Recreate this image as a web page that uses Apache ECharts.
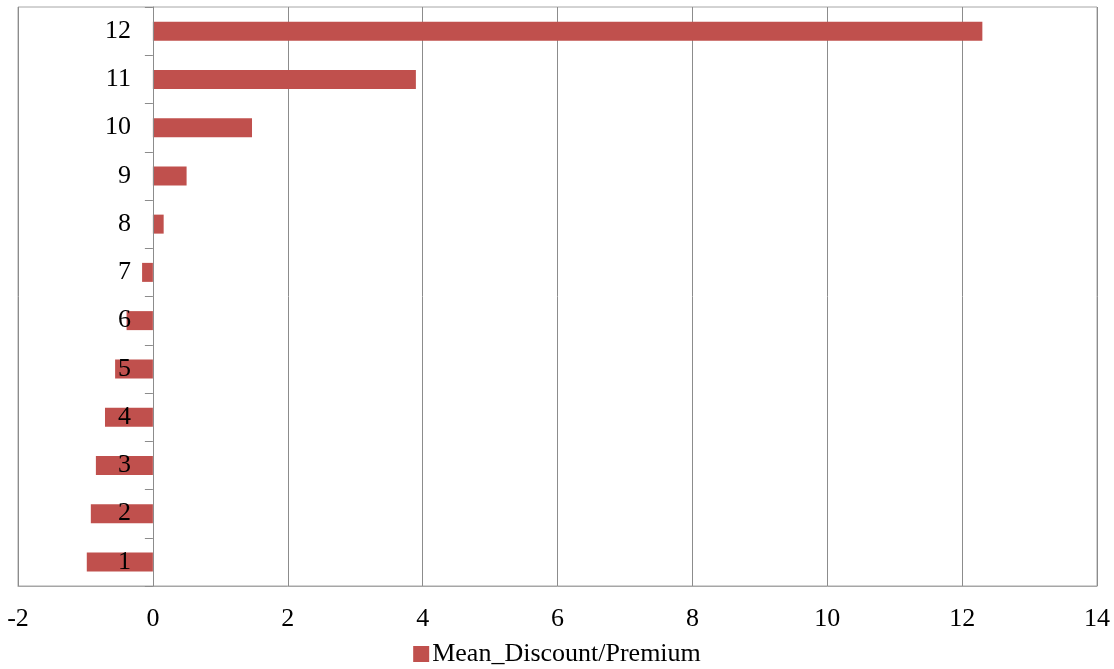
<!DOCTYPE html>
<html>
<head>
<meta charset="utf-8">
<script src="https://cdn.jsdelivr.net/npm/echarts@6/dist/echarts.min.js"></script>
<style>html,body{margin:0;padding:0;background:#fff;}#c{width:1114px;height:669px;}</style>
</head>
<body>
<div id="c"></div>
<script>
var categories = ['1','2','3','4','5','6','7','8','9','10','11','12'];
var meanDiscountPremium = [-0.98, -0.92, -0.845, -0.71, -0.56, -0.39, -0.16, 0.16, 0.50, 1.47, 3.90, 12.30];
var seriesName = 'Mean_Discount/Premium';
var xMin = -2, xMax = 14, xStep = 2;

var font = '"Liberation Serif", "Times New Roman", serif';
var gridLeft = 18, gridRight = 17, W = 1114;
var plotW = W - gridLeft - gridRight;
// place the category axis at value 0 of the x scale
var zeroOffset = -plotW * (0 - xMin) / (xMax - xMin);

var chart = echarts.init(document.getElementById('c'), null, {renderer: 'canvas'});
chart.setOption({
  animation: false,
  backgroundColor: '#fff',
  grid: {left: gridLeft, right: gridRight, top: 7, bottom: 83, show: true, borderColor: '#a6a6a6', borderWidth: 1,
         containLabel: false, outerBoundsMode: 'none'},
  legend: {
    data: [seriesName], bottom: -3, left: 'center', itemWidth: 16, itemHeight: 16, itemGap: 5,
    icon: 'rect',
    textStyle: {fontFamily: font, fontSize: 26, color: '#000', padding: [0,0,0,-2]}
  },
  xAxis: {
    type: 'value', min: xMin, max: xMax, interval: xStep,
    axisLine: {show: true, onZero: false, lineStyle: {color: '#a6a6a6'}},
    axisTick: {show: false},
    splitLine: {show: true, lineStyle: {color: '#8c8c8c', width: 1}},
    axisLabel: {fontFamily: font, fontSize: 26, color: '#000', margin: 20}
  },
  yAxis: {
    type: 'category', data: categories, boundaryGap: true, position: 'left', offset: zeroOffset,
    z: 10,
    axisLine: {show: true, onZero: false, lineStyle: {color: '#8c8c8c'}},
    axisTick: {show: true, length: 8, lineStyle: {color: '#8c8c8c'}},
    axisLabel: {fontFamily: font, fontSize: 26, color: '#000', margin: 22}
  },
  series: [{
    name: seriesName, type: 'bar', data: meanDiscountPremium,
    barWidth: 19, z: 2,
    itemStyle: {color: '#c0504d'}
  }]
});
</script>
</body>
</html>
